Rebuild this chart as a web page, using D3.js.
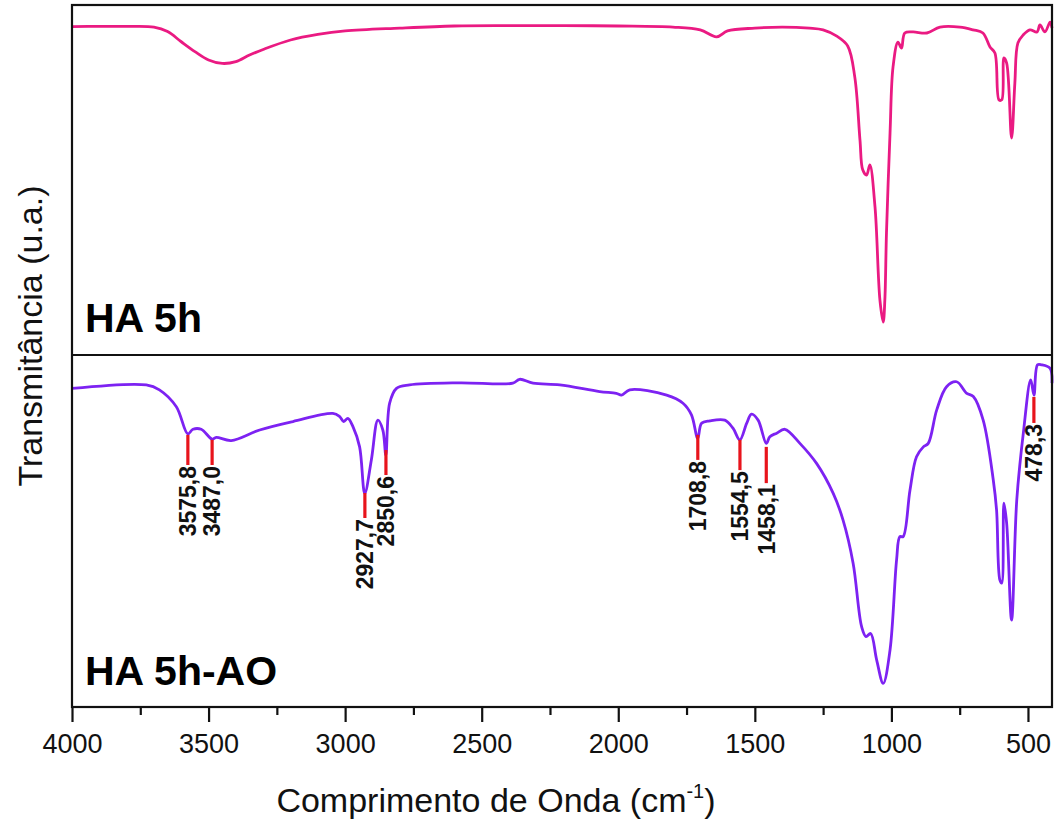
<!DOCTYPE html>
<html>
<head>
<meta charset="utf-8">
<script src="https://cdn.jsdelivr.net/npm/d3@7"></script>
<style>
  html, body { margin: 0; padding: 0; background: #fff; }
  svg { display: block; font-family: "Liberation Sans", Arial, sans-serif; }
</style>
</head>
<body>
<svg id="chart" width="1059" height="828"></svg>
<script>
// ---- data ----
const xTicks = [4000, 3500, 3000, 2500, 2000, 1500, 1000, 500];
const xMinorTicks = [3750, 3250, 2750, 2250, 1750, 1250, 750];

const waveHA = [4000,3900,3800,3700,3650,3600,3550,3500,3450,3400,3350,3300,3200,3100,3000,2800,2600,2400,2200,2000,1800,1700,1640,1600,1500,1400,1300,1250,1200,1160,1134,1115,1105,1091,1079,1060,1042,1030,1024,1018,1005,994,976,963,951,921,870,822,749,701,665,639,621,606,596,588,578,560,548,537,518,493,467,456,438,419,412];
const transHA = [93.8,93.9,93.9,93.7,92.4,89.5,86.7,84.3,83.3,83.8,85.7,87.3,90,91.6,92.6,93.4,94,94.1,94.1,94,93.7,92.9,90.9,92.6,93.4,93.7,93.4,92.9,91.1,88.3,79.4,61.4,52.9,51.4,54.3,42.3,15.7,9.4,15.7,34.9,63.4,82.3,89.4,87.7,92,92.3,92,93.7,93.7,92.9,92,88,86.3,72.9,72.9,84.9,83.4,62,77.7,89.1,91.4,92.9,92.3,94.3,92.3,95.1,93.4];

const waveAO = [4000,3728,3680,3618,3576,3557,3527,3487,3472,3417,3313,3191,3045,3020,3005,2990,2971,2947,2928,2904,2880,2862,2851,2837,2812,2764,2581,2386,2361,2312,2214,2068,2007,1988,1958,1823,1763,1732,1709,1695,1665,1610,1580,1555,1530,1512,1488,1458,1445,1420,1390,1335,1274,1213,1177,1140,1109,1093,1076,1054,1030,1005,981,969,957,932,908,883,865,834,798,761,724,700,664,627,615,603,596,588,578,560,541,517,490,478,465,450,419,412];
const transAO = [90.5,91.5,90.1,85.3,77.6,78.9,78.9,76.1,76.6,75.7,78.7,81.1,83.4,82.5,81.1,82,79.6,73.9,60.7,70.2,81.5,78.7,71.6,86.3,90.5,91.5,92.1,92,93.1,92,91.5,89.6,89.1,88.6,90.1,88.6,86.3,83,76.3,80.6,81.3,81.5,79.2,75.9,80.6,83.2,81.5,74.9,76.8,77.8,78.9,74.9,69.2,60.7,53.1,40.8,22.8,20,20.9,13.4,6.7,16.2,41.8,48.4,48.4,61.6,71.1,73.9,74.9,84.4,91,92.4,89.1,88.2,81.5,64.5,56,36.1,35.2,57.9,52.2,24.7,58.8,77.8,92.9,88.6,97.2,97.2,96.2,92];

const peakLabels = ["3575,8","3487,0","2927,7","2850,6","1708,8","1554,5","1458,1","478,3"];
const peakWaves  = [3575.8, 3487.0, 2927.7, 2850.6, 1708.8, 1554.5, 1458.1, 478.3];
const peakTop    = [77.3, 75.9, 60.8, 73.0, 77.3, 75.9, 73.9, 88.1];
const peakBottom = [68.75, 68.75, 53.7, 65.9, 70.2, 67.3, 63.6, 80.7];

const panelNames = ["HA 5h", "HA 5h-AO"];
const xTitle = "Comprimento de Onda (cm";
const xTitleSup = "-1";
const yTitle = "Transmitância (u.a.)";

// ---- layout ----
const L = 72, R = 1052, T = 5, MID = 355, B = 707;
const svg = d3.select("#chart");

const x = d3.scaleLinear().domain([4000, 412]).range([L, R]);
const yTop = d3.scaleLinear().domain([0, 100]).range([MID, T]);
const yBot = d3.scaleLinear().domain([0, 100]).range([B, MID]);

const line = (ys) => d3.line().x(d => x(d[0])).y(d => ys(d[1])).curve(d3.curveCatmullRom.alpha(0.5));

// curves
svg.append("path")
  .datum(d3.zip(waveHA, transHA))
  .attr("d", line(yTop))
  .attr("fill", "none").attr("stroke", "#ea1a82").attr("stroke-width", 2.8)
  .attr("stroke-linejoin", "round");

svg.append("path")
  .datum(d3.zip(waveAO, transAO))
  .attr("d", line(yBot))
  .attr("fill", "none").attr("stroke", "#7d22f2").attr("stroke-width", 2.8)
  .attr("stroke-linejoin", "round");

// peak markers
const peaks = peakLabels.map((lab, i) => ({lab, w: peakWaves[i], t: peakTop[i], b: peakBottom[i]}));
svg.append("g").selectAll("line").data(peaks).join("line")
  .attr("x1", d => x(d.w)).attr("x2", d => x(d.w))
  .attr("y1", d => yBot(d.t)).attr("y2", d => yBot(d.b))
  .attr("stroke", "#e8141c").attr("stroke-width", 3.2);

svg.append("g").selectAll("text").data(peaks).join("text")
  .attr("transform", d => `translate(${x(d.w)},${yBot(d.b) + 1}) rotate(-90)`)
  .attr("text-anchor", "end")
  .attr("dy", "0.36em")
  .attr("font-size", 23).attr("font-weight", "bold")
  .attr("fill", "#111")
  .text(d => d.lab);

// frame
svg.append("rect").attr("x", L).attr("y", T).attr("width", R - L).attr("height", B - T)
  .attr("fill", "none").attr("stroke", "#111").attr("stroke-width", 2.2);
svg.append("line").attr("x1", L).attr("x2", R).attr("y1", MID).attr("y2", MID)
  .attr("stroke", "#111").attr("stroke-width", 2.2);

// x axis
const gx = svg.append("g").attr("transform", `translate(0,${B})`)
  .call(d3.axisBottom(x).tickValues(xTicks).tickSize(15).tickPadding(12).tickFormat(d3.format("d")));
gx.select(".domain").remove();
gx.selectAll(".tick line").attr("stroke", "#111").attr("stroke-width", 2.2);
gx.selectAll(".tick text").attr("font-size", 27).attr("fill", "#111")
  .attr("font-family", "'Liberation Sans', Arial, sans-serif");

const gxm = svg.append("g").attr("transform", `translate(0,${B})`)
  .call(d3.axisBottom(x).tickValues(xMinorTicks).tickSize(8).tickFormat(""));
gxm.select(".domain").remove();
gxm.selectAll(".tick line").attr("stroke", "#111").attr("stroke-width", 2.2);

// panel labels
svg.append("text").attr("x", 85).attr("y", 332)
  .attr("font-size", 41).attr("font-weight", "bold").attr("fill", "#000")
  .text(panelNames[0]);
svg.append("text").attr("x", 85).attr("y", 685)
  .attr("font-size", 41).attr("font-weight", "bold").attr("fill", "#000")
  .text(panelNames[1]);

// axis titles
const xt = svg.append("text").attr("x", 496).attr("y", 812)
  .attr("text-anchor", "middle").attr("font-size", 34).attr("fill", "#111");
xt.append("tspan").text(xTitle);
xt.append("tspan").attr("font-size", 20).attr("dy", -14).text(xTitleSup);
xt.append("tspan").attr("dy", 14).text(")");

svg.append("text")
  .attr("transform", `translate(42,336) rotate(-90)`)
  .attr("text-anchor", "middle").attr("font-size", 34).attr("fill", "#111")
  .text(yTitle);
</script>
</body>
</html>
